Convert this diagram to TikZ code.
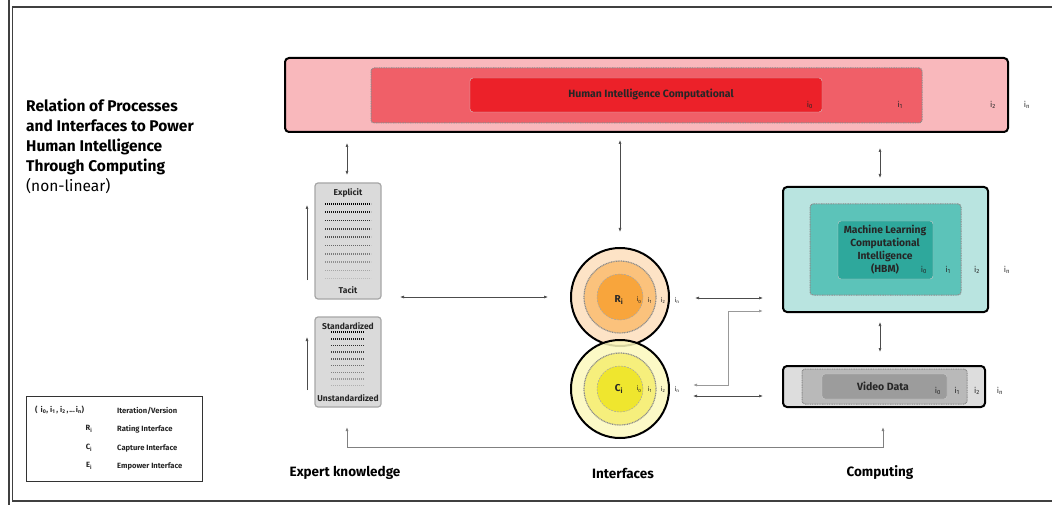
\documentclass[tikz,border=0pt]{standalone}
\usepackage{fontspec}
\setmainfont{Fira Sans}
\usetikzlibrary{arrows.meta,calc}

\definecolor{hiOuter}{HTML}{F9B8BC}
\definecolor{hiMid}{HTML}{F05F68}
\definecolor{hiInner}{HTML}{EC2129}
\definecolor{mlOuter}{HTML}{B9E4E0}
\definecolor{mlMid}{HTML}{5CC3B9}
\definecolor{mlInner}{HTML}{2EA89C}
\definecolor{vdOuter}{HTML}{DDDDDD}
\definecolor{vdMid}{HTML}{B9B9B9}
\definecolor{vdInner}{HTML}{9C9C9C}
\definecolor{rOuter}{HTML}{FDE3C6}
\definecolor{rMid}{HTML}{FBC27C}
\definecolor{rInner}{HTML}{F8A53C}
\definecolor{cOuter}{HTML}{FCF8BC}
\definecolor{cMid}{HTML}{F6EF7C}
\definecolor{cInner}{HTML}{EFE62E}
\definecolor{kbFill}{HTML}{DADADA}
\definecolor{kbLine}{HTML}{A6A6A6}

\newcommand\ix[1]{i\textsubscript{#1}}

\tikzset{
  frame/.style={draw=black!75, line width=1.3pt},
  outerbox/.style={draw=black, line width=2pt, rounded corners=4pt, inner sep=0pt, outer sep=0pt},
  dotbox/.style={draw=black!45, line width=1pt, dash pattern=on 1pt off 0.7pt, rounded corners=3pt, inner sep=0pt, outer sep=0pt},
  innerbox/.style={draw=black!20, line width=0.4pt, rounded corners=3pt, inner sep=0pt, outer sep=0pt},
  kbox/.style={draw=kbLine, fill=kbFill, line width=1.2pt, rounded corners=3pt, inner sep=0pt, outer sep=0pt},
  circ/.style={circle, inner sep=0pt, outer sep=0pt},
  link/.style={draw=black!70, line width=0.6pt, {Latex[length=4pt,width=3pt]}-{Latex[length=4pt,width=3pt]}},
  uplink/.style={draw=black!70, line width=0.6pt, -{Latex[length=4pt,width=3pt]}},
  elbow/.style={draw=black!40, line width=1pt, {Latex[length=4pt,width=3pt]}-{Latex[length=4pt,width=3pt]}},
  ilab/.style={font=\fontsize{8}{9}\selectfont, text=black!85, inner sep=0pt},
  clab/.style={font=\fontsize{6.5}{7}\selectfont, text=black!85, inner sep=0pt},
  boxtext/.style={font=\fontsize{10.5}{12}\selectfont\bfseries, text=black!85, inner sep=0pt},
  kbtext/.style={font=\fontsize{8.5}{9}\selectfont\bfseries, text=black!85, inner sep=0pt},
  colhead/.style={font=\fontsize{13.5}{15}\selectfont\bfseries, inner sep=0pt},
  legtext/.style={font=\fontsize{7.6}{8}\selectfont\bfseries, text=black!85, inner sep=0pt}
}

\begin{document}
\begin{tikzpicture}[x=1pt,y=-1pt]
\useasboundingbox (0,0) rectangle (1052,505);

% page frame: double rule on the left, single rules top and bottom
\draw[frame] (9,0) -- (9,505);
\draw[frame] (1052,7) -- (12.5,7) -- (12.5,501) -- (1052,501);

% title
\node[anchor=north west, align=left, inner sep=0pt,
      font=\fontsize{15.5}{20}\selectfont\bfseries] (title) at (26,99)
  {Relation of Processes\\and Interfaces to Power\\Human Intelligence\\Through Computing\\{\mdseries (non-linear)}};

% human intelligence band
\node[outerbox, fill=hiOuter, minimum width=723, minimum height=74] (top) at (646.5,95) {};
\node[dotbox, fill=hiMid, minimum width=551, minimum height=55] (topmid) at (646.5,95.5) {};
\node[innerbox, fill=hiInner, minimum width=352, minimum height=34] (topin) at (646,95) {};
\node[boxtext] (toptxt) at (651,94) {Human Intelligence Computational};
\node[ilab] (t0) at (810,105) {\ix{0}};
\node[ilab] (t1) at (900,105) {\ix{1}};
\node[ilab] (t2) at (993,105) {\ix{2}};
\node[ilab] (tn) at (1027,105) {\ix{n}};

% expert knowledge boxes
\node[kbox, minimum width=66, minimum height=116] (exp) at (348,241) {};
\node[kbtext] (explbl) at (348,193) {Explicit};
\node[kbtext] (taclbl) at (348,290) {Tacit};
\foreach \k in {0,...,9}{
  \pgfmathsetmacro{\op}{1-0.095*\k}
  \pgfmathsetmacro{\lw}{2-0.1*\k}
  \draw[line width=\lw pt, dash pattern=on 1.4pt off 0.6pt, draw=black, draw opacity=\op]
    (325,{204+8.3*\k}) -- (371,{204+8.3*\k});
}
\node[kbox, minimum width=66, minimum height=90] (stan) at (348,362) {};
\node[kbtext] (stanlbl) at (348,326) {Standardized};
\node[kbtext] (unstlbl) at (348,398) {Unstandardized};
\foreach \k in {0,...,8}{
  \pgfmathsetmacro{\op}{1-0.1*\k}
  \pgfmathsetmacro{\lw}{2-0.11*\k}
  \draw[line width=\lw pt, dash pattern=on 1.4pt off 0.6pt, draw=black, draw opacity=\op]
    (331,{332+6.7*\k}) -- (364,{332+6.7*\k});
}

% interface circles
\node[circ, fill=rOuter, minimum size=98] (R) at (620,297) {};
\node[circ, fill=rMid, draw=black!45, line width=1.2pt, dash pattern=on 1pt off 0.7pt, minimum size=72] (Rm) at (620,297) {};
\node[circ, fill=rInner, draw=black!35, line width=0.5pt, dash pattern=on 2pt off 1pt, minimum size=46] (Ri) at (620,297) {};
\draw[line width=2pt] (R) circle[radius=49];
\node[circ, fill=cOuter, fill opacity=0.85, minimum size=98] (C) at (620,389) {};
\node[circ, fill=cMid, draw=black!45, line width=1.2pt, dash pattern=on 1pt off 0.7pt, minimum size=72] (Cm) at (620,389) {};
\node[circ, fill=cInner, draw=black!35, line width=0.5pt, dash pattern=on 2pt off 1pt, minimum size=46] (Ci) at (620,389) {};
\draw[line width=2pt] (C) circle[radius=49];
\node[kbtext, font=\fontsize{10}{11}\selectfont\bfseries] (Rlbl) at (619,300) {R\textsubscript{i}};
\node[clab] (r0) at (639,300) {\ix{0}};
\node[clab] (r1) at (650,300) {\ix{1}};
\node[clab] (r2) at (663,300) {\ix{2}};
\node[clab] (rn) at (677,300) {\ix{n}};
\node[kbtext, font=\fontsize{10}{11}\selectfont\bfseries] (Clbl) at (619,389) {C\textsubscript{i}};
\node[clab] (c0) at (639,389) {\ix{0}};
\node[clab] (c1) at (650,389) {\ix{1}};
\node[clab] (c2) at (663,389) {\ix{2}};
\node[clab] (cn) at (677,389) {\ix{n}};

% machine learning box
\node[outerbox, fill=mlOuter, minimum width=205, minimum height=125] (ml) at (885.5,249.5) {};
\node[dotbox, fill=mlMid, minimum width=151, minimum height=91] (mlmid) at (885.5,249.5) {};
\node[innerbox, fill=mlInner, minimum width=95, minimum height=58] (mlin) at (885.5,250) {};
\node[boxtext, align=center, font=\fontsize{10.3}{13}\selectfont\bfseries] (mltxt) at (885,249.5)
  {Machine Learning\\Computational\\Intelligence\\(HBM)};
\node[ilab] (m0) at (924,270) {\ix{0}};
\node[ilab] (m1) at (948,270) {\ix{1}};
\node[ilab] (m2) at (977,270) {\ix{2}};
\node[ilab] (mn) at (1007,270) {\ix{n}};

% video data box
\node[outerbox, fill=vdOuter, minimum width=202, minimum height=41] (vid) at (884,386.5) {};
\node[dotbox, fill=vdMid, minimum width=165, minimum height=35] (vidmid) at (884.5,386.5) {};
\node[innerbox, fill=vdInner, minimum width=125, minimum height=25] (vidin) at (884.5,386.5) {};
\node[boxtext] (vidtxt) at (883,386) {Video Data};
\node[ilab] (v0) at (938,391) {\ix{0}};
\node[ilab] (v1) at (957,391) {\ix{1}};
\node[ilab] (v2) at (977,391) {\ix{2}};
\node[ilab] (vn) at (1000,391) {\ix{n}};

% column headings
\node[colhead] (hexp) at (345,473) {Expert knowledge};
\node[colhead] (hint) at (623,473) {Interfaces};
\node[colhead] (hcomp) at (880,473) {Computing};

% legend
\node[draw=black!80, line width=1pt, minimum width=176, minimum height=85, inner sep=0pt] (legend) at (114,438.5) {};
\node[legtext, anchor=west] (l0a) at (35,410) {(\hspace{3pt}\ix{0},\hspace{2pt}\ix{1}\hspace{1pt},\hspace{2pt}\ix{2}\hspace{1pt},\hspace{1pt}...\hspace{1pt}\ix{n})};
\node[legtext, anchor=west] (l0b) at (117,411) {Iteration/Version};
\node[legtext] (l1a) at (89,429) {R\textsubscript{i}};
\node[legtext, anchor=west] (l1b) at (117,429) {Rating Interface};
\node[legtext] (l2a) at (89,448) {C\textsubscript{i}};
\node[legtext, anchor=west] (l2b) at (117,448) {Capture Interface};
\node[legtext] (l3a) at (89,466) {E\textsubscript{i}};
\node[legtext, anchor=west] (l3b) at (117,466) {Empower Interface};

% connectors
\draw[link] ($(top.south -| exp.north)+(-1,11)$) -- ($(exp.north)+(-1,-8)$);
\draw[link] ($(top.south -| R.north)+(0,8)$) -- ($(R.north)+(0,-16)$);
\draw[link] ($(top.south -| ml.north)+(-5.5,16)$) -- ($(ml.north)+(-5.5,-9)$);
\draw[link] ($(exp.east |- R.center)+(19,0)$) -- ($(R.west)+(-23,0)$);
\draw[link] ($(R.east)+(26,1)$) -- ($(R.east -| ml.west)+(-20,1)$);
\draw[elbow] ($(ml.south west)+(-20,-1)$) -- ++(-35,0) |- ($(C.east)+(24,-4)$);
\draw[link] ($(C.east)+(24,7)$) -- ($(C.east -| vid.west)+(-20,7)$);
\draw[link] ($(ml.south)+(-5.5,10)$) -- ($(ml.south |- vid.north)+(-5.5,-14)$);
\draw[uplink] ($(exp.south west)+(-8,-19)$) -- ($(exp.north west)+(-8,22)$);
\draw[uplink] ($(stan.south west)+(-8,-17)$) -- ($(stan.north west)+(-8,20)$);
\draw[elbow, draw=black!50, line width=0.8pt] ($(stan.south)+(-1,20)$) -- ++(0,20) -| ($(vid.south)+(-1,20)$);
\end{tikzpicture}
\end{document}
